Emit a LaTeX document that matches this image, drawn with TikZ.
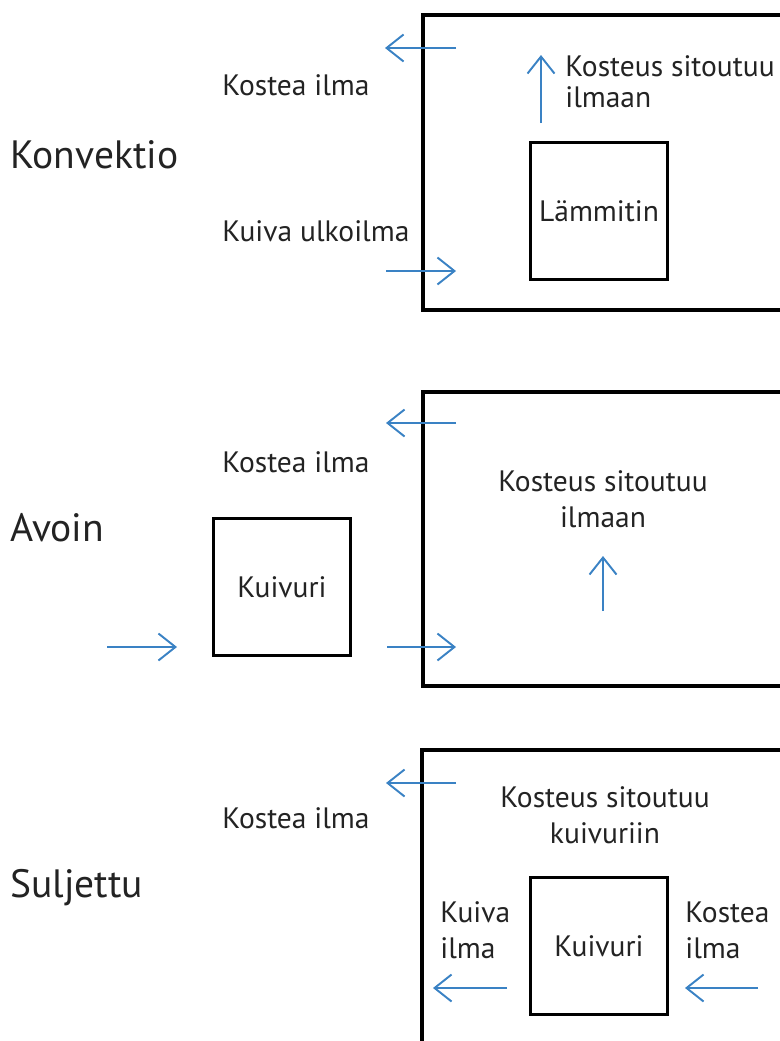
\documentclass[tikz,border=0pt]{standalone}
\usepackage{fontspec}
\setmainfont{PT Sans}
\usetikzlibrary{arrows.meta}
\definecolor{flowblue}{RGB}{58,130,196}
\definecolor{inkgray}{RGB}{35,35,35}

\begin{document}
\begin{tikzpicture}[x=0.02cm,y=-0.02cm,
        flow/.style={-{Straight Barb[length=3.4mm,width=5.4mm]},flowblue,line width=1.1pt},
        room/.style={line width=2.3pt},
        unit/.style={draw,line width=2pt,minimum width=2.74cm,minimum height=2.74cm,inner sep=0pt,text=inkgray,font=\fontsize{16.8}{20}\selectfont},
        lbl/.style={inner sep=0pt,text=inkgray,font=\fontsize{16.8}{20.5}\selectfont},
        title/.style={anchor=west,inner sep=0pt,text=inkgray,font=\fontsize{22.5}{26}\selectfont}]
        \useasboundingbox (0,0) rectangle (780,1041);
        \clip (0,0) rectangle (780,1041);

        % Konvektio
        \node[title] (konv) at (10,155) {Konvektio};
        \draw[room] (423,15) rectangle (800,310);
        \node[unit] (heater) at (599,211) {Lämmitin};
        \coordinate (K1a) at (456,48);
        \coordinate (K1b) at (385,48);
        \coordinate (K2a) at (386,271);
        \coordinate (K2b) at (456,271);
        \coordinate (K3a) at (541,123);
        \coordinate (K3b) at (541,55);
        \draw[flow] (K1a) -- (K1b);
        \draw[flow] (K2a) -- (K2b);
        \draw[flow] (K3a) -- (K3b);
        \node[lbl] (konvout) at (296,85) {Kostea ilma};
        \node[lbl,anchor=west] (konvin) at (222,231) {Kuiva ulkoilma};
        \node[lbl,anchor=west,align=left,font=\fontsize{16.8}{17.5}\selectfont] (konvmoist) at (565,82) {Kosteus sitoutuu\\ilmaan};

        % Avoin
        \node[title] (avoin) at (10,528) {Avoin};
        \draw[room] (423,392) rectangle (800,686);
        \node[unit] (dryer1) at (282,587) {Kuivuri};
        \coordinate (A1a) at (456,423);
        \coordinate (A1b) at (386,423);
        \coordinate (A2a) at (107,647);
        \coordinate (A2b) at (177,647);
        \coordinate (A3a) at (387,647);
        \coordinate (A3b) at (456,647);
        \coordinate (A4a) at (603,611);
        \coordinate (A4b) at (603,556);
        \draw[flow] (A1a) -- (A1b);
        \draw[flow] (A2a) -- (A2b);
        \draw[flow] (A3a) -- (A3b);
        \draw[flow] (A4a) -- (A4b);
        \node[lbl] (avoinout) at (296,462) {Kostea ilma};
        \node[lbl,align=center] (avoinmoist) at (603,499) {Kosteus sitoutuu\\ilmaan};

        % Suljettu
        \node[title] (sulj) at (10,888) {Suljettu};
        \draw[room] (422,750) rectangle (800,1100);
        \node[unit] (dryer2) at (599,946) {Kuivuri};
        \coordinate (S1a) at (456,783);
        \coordinate (S1b) at (386,783);
        \coordinate (S2a) at (507,988);
        \coordinate (S2b) at (433,988);
        \coordinate (S3a) at (758,988);
        \coordinate (S3b) at (685,988);
        \draw[flow] (S1a) -- (S1b);
        \draw[flow] (S2a) -- (S2b);
        \draw[flow] (S3a) -- (S3b);
        \node[lbl] (suljout) at (296,818) {Kostea ilma};
        \node[lbl,align=center] (suljmoist) at (605,815) {Kosteus sitoutuu\\kuivuriin};
        \node[lbl,anchor=west,align=left] (dryair) at (440,930) {Kuiva\\ilma};
        \node[lbl,anchor=west,align=left] (moistair) at (685,930) {Kostea\\ilma};
\end{tikzpicture}
\end{document}
